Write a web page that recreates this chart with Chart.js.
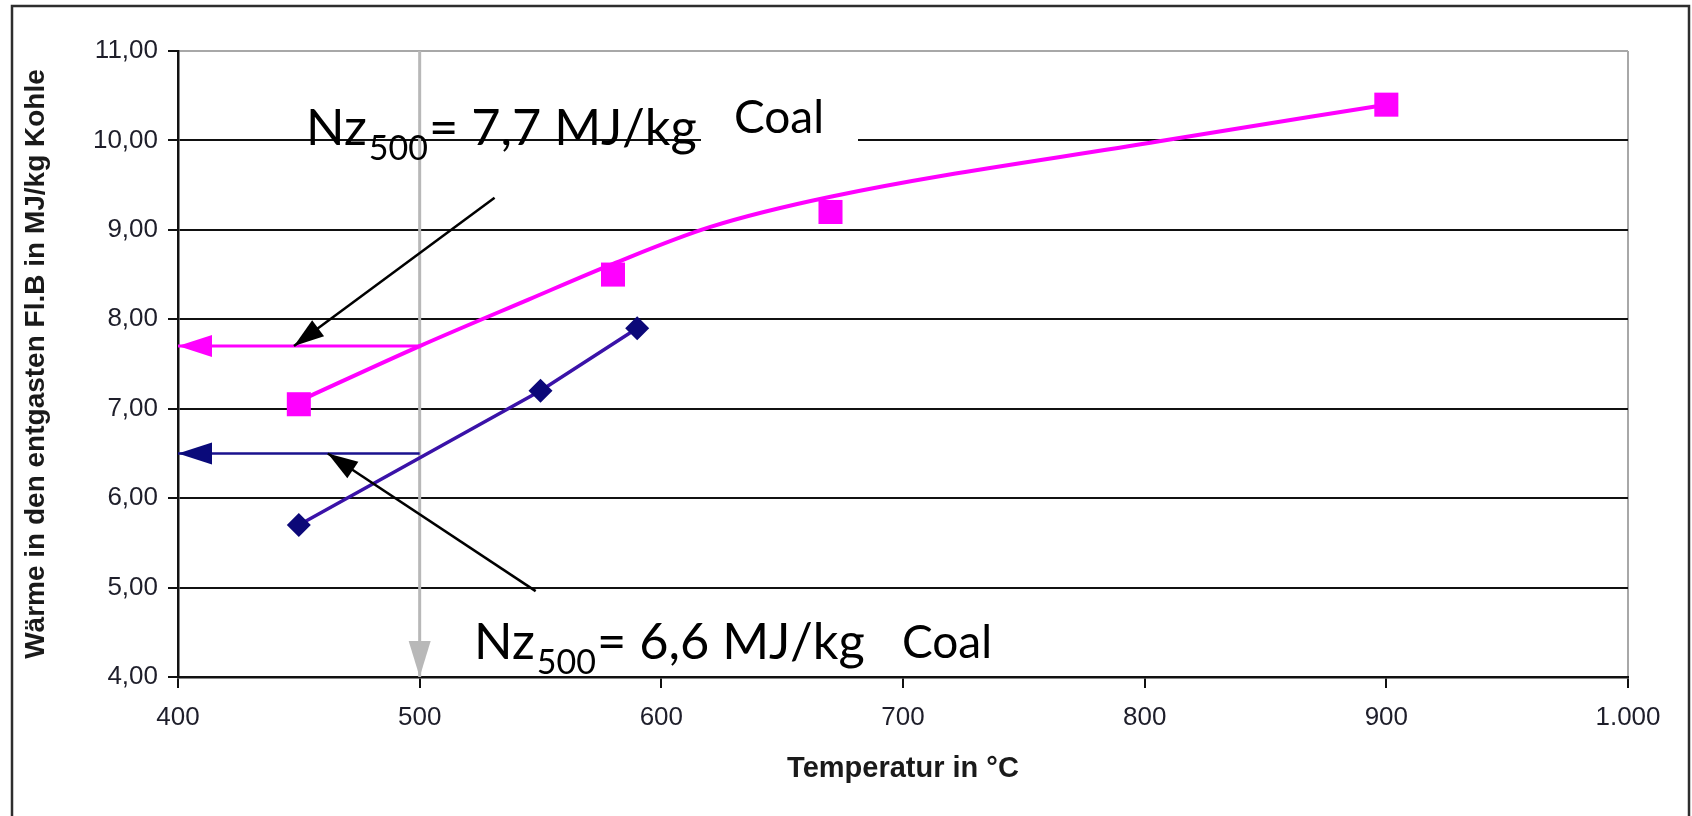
<!DOCTYPE html>
<html>
<head>
<meta charset="utf-8">
<script src="https://cdn.jsdelivr.net/npm/chart.js@4.4.1/dist/chart.umd.min.js"></script>
<style>
html,body{margin:0;padding:0;background:#fff;overflow:hidden}
#wrap{width:1692px;height:816px;position:relative}
</style>
</head>
<body>
<div id="wrap"><canvas id="c" width="1692" height="816"></canvas></div>
<script>
// ---- axis ticks ----
const xTickValues = [400, 500, 600, 700, 800, 900, 1000];
const xTickLabels = ['400', '500', '600', '700', '800', '900', '1.000'];
const yTickValues = [4, 5, 6, 7, 8, 9, 10, 11];
const yTickLabels = ['4,00', '5,00', '6,00', '7,00', '8,00', '9,00', '10,00', '11,00'];

// ---- series: measured points ----
const pinkTemps  = [450, 580, 670, 900];
const pinkValues = [7.05, 8.50, 9.20, 10.40];
const blueTemps  = [450, 550, 590];
const blueValues = [5.70, 7.20, 7.90];

// ---- pink trend curve ----
const pinkTrendTemps  = [452, 500, 545, 580, 620, 670, 806, 900];
const pinkTrendValues = [7.11, 7.70, 8.22, 8.62, 9.03, 9.37, 9.99, 10.40];

// ---- read-off arrows at 500 °C ----
const grayArrowTemps   = [500, 500];
const grayArrowValues  = [11, 4];
const pinkArrowTemps   = [500, 400];
const pinkArrowValues  = [7.7, 7.7];
const blueArrowTemps   = [500, 400];
const blueArrowValues  = [6.5, 6.5];
const pointerTopTemps  = [531, 448];
const pointerTopValues = [9.36, 7.7];
const pointerBotTemps  = [548, 462];
const pointerBotValues = [4.96, 6.5];

// ---- annotation texts ----
const labelTopValue = '7,7';
const labelBotValue = '6,6';
const labelUnit = 'MJ/kg';
const labelCoal = 'Coal';

const zip = (xs, ys) => xs.map((x, i) => ({x: x, y: ys[i]}));

const outerFrame = {
  id: 'outerFrame',
  beforeDraw(chart) {
    const ctx = chart.ctx;
    ctx.save();
    ctx.fillStyle = '#fff';
    ctx.fillRect(0, 0, chart.width, chart.height);
    ctx.strokeStyle = '#2e2e2e';
    ctx.lineWidth = 2.5;
    ctx.strokeRect(12, 6, 1677, 900);
    ctx.restore();
  }
};

const arrowHeads = {
  id: 'arrowHeads',
  afterDatasetsDraw(chart) {
    const ctx = chart.ctx;
    chart.data.datasets.forEach((ds, i) => {
      if (!ds.arrowHead) return;
      const pts = chart.getDatasetMeta(i).data;
      const a = pts[pts.length - 2], b = pts[pts.length - 1];
      const dx = b.x - a.x, dy = b.y - a.y;
      const L = Math.hypot(dx, dy);
      const ux = dx / L, uy = dy / L;
      const h = ds.arrowHead;
      const bx = b.x - ux * h.len, by = b.y - uy * h.len;
      ctx.save();
      ctx.fillStyle = h.color;
      ctx.beginPath();
      ctx.moveTo(b.x, b.y);
      ctx.lineTo(bx - uy * h.w / 2, by + ux * h.w / 2);
      ctx.lineTo(bx + uy * h.w / 2, by - ux * h.w / 2);
      ctx.closePath();
      ctx.fill();
      ctx.restore();
    });
  }
};

const MAIN_FONT = '"Lato", "Noto Sans", sans-serif';
function drawNz(ctx, x, baseline, value) {
  ctx.font = '50.5px ' + MAIN_FONT;
  ctx.fillText('Nz', x, baseline);
  const w1 = ctx.measureText('Nz').width;
  ctx.font = '34px ' + MAIN_FONT;
  ctx.fillText('500', x + w1 + 2, baseline + 15);
  const w2 = ctx.measureText('500').width;
  ctx.font = '50.5px ' + MAIN_FONT;
  const rest = '= ' + value + ' ' + labelUnit;
  ctx.fillText(rest, x + w1 + w2 + 3, baseline);
}

const annotations = {
  id: 'annotations',
  afterDraw(chart) {
    const ctx = chart.ctx;
    ctx.save();
    ctx.fillStyle = '#000';
    ctx.textBaseline = 'alphabetic';
    ctx.textAlign = 'left';
    drawNz(ctx, 306, 145, labelTopValue);
    // white text box behind the upper "Coal"
    ctx.fillStyle = '#fff';
    ctx.fillRect(701, 86, 157, 62);
    ctx.fillStyle = '#000';
    ctx.font = '46px ' + MAIN_FONT;
    ctx.fillText(labelCoal, 734, 133);
    drawNz(ctx, 474, 659, labelBotValue);
    ctx.font = '46px ' + MAIN_FONT;
    ctx.fillText(labelCoal, 902, 658);
    ctx.restore();
  }
};

const TICK_FONT = {family: '"Liberation Sans", Arial, sans-serif', size: 26};
const TITLE_FONT_X = {family: '"Liberation Sans", Arial, sans-serif', size: 29, weight: 'bold'};
const TITLE_FONT_Y = {family: '"Liberation Sans", Arial, sans-serif', size: 28, weight: 'bold'};

new Chart(document.getElementById('c'), {
  type: 'scatter',
  data: {
    datasets: [
      {label: 'pointerTop', data: zip(pointerTopTemps, pointerTopValues), showLine: true,
       borderColor: '#000', borderWidth: 2.5, pointRadius: 0, arrowHead: {len: 30, w: 20, color: '#000'}, order: 1},
      {label: 'pointerBot', data: zip(pointerBotTemps, pointerBotValues), showLine: true,
       borderColor: '#000', borderWidth: 2.5, pointRadius: 0, arrowHead: {len: 30, w: 20, color: '#000'}, order: 1},
      {label: 'pink', data: zip(pinkTemps, pinkValues), pointStyle: 'rect', pointRadius: 17,
       backgroundColor: '#ff00ff', borderColor: '#ff00ff', borderWidth: 0, order: 2},
      {label: 'blue', data: zip(blueTemps, blueValues), showLine: true, borderColor: '#3a12a8', borderWidth: 3.5,
       pointStyle: 'rectRot', pointRadius: 12, pointBackgroundColor: '#0c0878', pointBorderColor: '#0c0878', pointBorderWidth: 0, order: 3},
      {label: 'pinkTrend', data: zip(pinkTrendTemps, pinkTrendValues), showLine: true, borderColor: '#ff00ff', borderWidth: 4,
       pointRadius: 0, cubicInterpolationMode: 'monotone', order: 4},
      {label: 'pinkArrow', data: zip(pinkArrowTemps, pinkArrowValues), showLine: true, borderColor: '#ff00ff', borderWidth: 3,
       pointRadius: 0, arrowHead: {len: 34, w: 22, color: '#ff00ff'}, order: 5},
      {label: 'blueArrow', data: zip(blueArrowTemps, blueArrowValues), showLine: true, borderColor: '#1a128e', borderWidth: 2.5,
       pointRadius: 0, arrowHead: {len: 34, w: 22, color: '#0a0a7a'}, order: 5},
      {label: 'grayArrow', data: zip(grayArrowTemps, grayArrowValues), showLine: true, borderColor: '#b8b8b8', borderWidth: 3,
       pointRadius: 0, arrowHead: {len: 36, w: 22, color: '#b8b8b8'}, order: 6}
    ]
  },
  options: {
    responsive: false,
    devicePixelRatio: 1,
    animation: false,
    events: [],
    layout: {padding: {left: 0, top: 51, right: 64, bottom: 0}},
    plugins: {legend: {display: false}, tooltip: {enabled: false}},
    scales: {
      x: {
        type: 'linear', min: 400, max: 1000,
        afterFit(scale) { scale.height = 139; },
        afterBuildTicks(scale) { scale.ticks = xTickValues.map(v => ({value: v})); },
        ticks: {callback: v => xTickLabels[xTickValues.indexOf(v)], font: TICK_FONT, color: '#1e1e2a', padding: 14, maxRotation: 0, autoSkip: false},
        grid: {color: ctx => (ctx.tick && ctx.tick.value === 1000) ? '#a8a8a8' : 'rgba(0,0,0,0)', lineWidth: 2, tickColor: '#111', tickLength: 11, drawOnChartArea: true},
        border: {color: '#111', width: 2.5},
        title: {display: true, text: 'Temperatur in °C', font: TITLE_FONT_X, color: '#1a1a1a', padding: {top: 0, bottom: 30}}
      },
      y: {
        type: 'linear', min: 4, max: 11,
        afterFit(scale) { scale.width = 178; },
        afterBuildTicks(scale) { scale.ticks = yTickValues.map(v => ({value: v})); },
        ticks: {callback: v => yTickLabels[yTickValues.indexOf(v)], font: TICK_FONT, color: '#1e1e2a', padding: 10, autoSkip: false},
        grid: {color: ctx => (ctx.tick && ctx.tick.value === 11) ? '#a8a8a8' : '#111', lineWidth: 2, tickColor: '#111', tickLength: 10},
        border: {color: '#111', width: 2.5},
        title: {display: true, text: 'Wärme in den entgasten Fl.B in MJ/kg Kohle', font: TITLE_FONT_Y, color: '#1a1a1a', padding: {top: 19, bottom: 0}}
      }
    }
  },
  plugins: [outerFrame, arrowHeads, annotations]
});
</script>
</body>
</html>
